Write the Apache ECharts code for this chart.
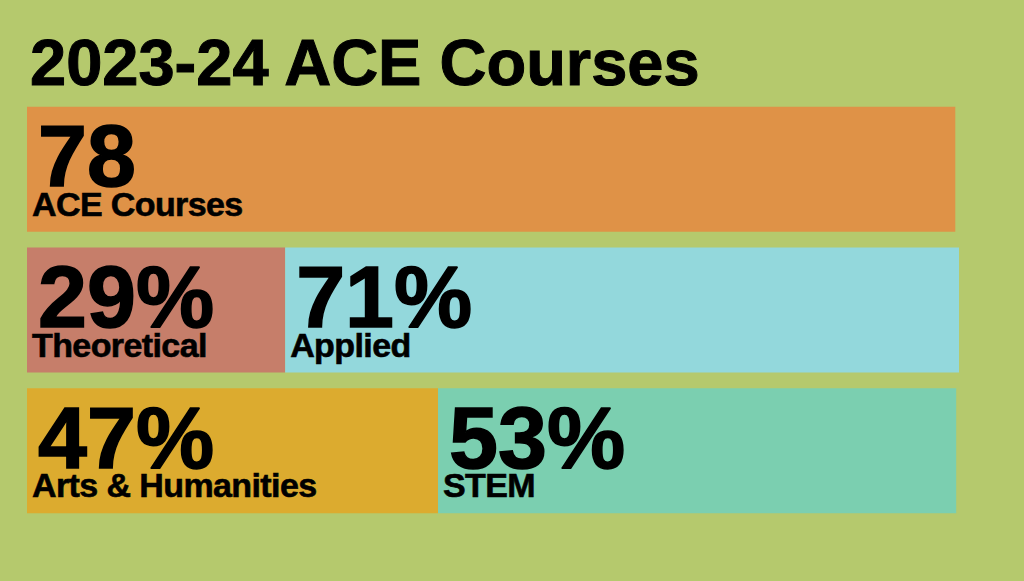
<!DOCTYPE html>
<html>
<head>
  <meta charset="utf-8" />
  <title>2023-24 ACE Courses</title>
  <script src="https://cdn.jsdelivr.net/npm/echarts@6/dist/echarts.min.js"></script>
  <style>
    html, body { margin: 0; padding: 0; background: #b5c96d; }
    #main { width: 1024px; height: 581px; }
    /* the small captions are set tight in the original */
    #main text[style*="34px"] { letter-spacing: -0.6px; }
  </style>
</head>
<body>
<div id="main"></div>
<script type="text/javascript">
  // rows, top to bottom
  var rows = ['Total', 'Type', 'Field'];
  // bar widths as share of the full row
  var leftShare = [99.6, 27.7, 44.1];
  var rightShare = ['-', 72.3, 55.6];
  // texts printed in each block
  var leftValue = ['78', '29%', '47%'];
  var leftName = ['ACE Courses', 'Theoretical', 'Arts & Humanities'];
  var rightValue = ['', '71%', '53%'];
  var rightName = ['', 'Applied', 'STEM'];

  var leftColors = ['#df9247', '#c67e6a', '#dcab2f'];
  var rightColors = ['#df9247', '#93d8dc', '#7bcfb0'];

  var font = '"Liberation Sans", Arial, sans-serif';

  function blockLabel(values, names) {
    return {
      show: true,
      position: 'insideTopLeft',
      distance: 0,
      offset: [5, 18],
      fontFamily: font,
      formatter: function (p) {
        return '{n|' + values[p.dataIndex] + '}\n{s|' + names[p.dataIndex] + '}';
      },
      rich: {
        n: {
          fontSize: 88, fontWeight: 'bold', color: '#000', lineHeight: 62, fontFamily: font,
          padding: [0, 0, 0, 6], textBorderColor: '#000', textBorderWidth: 1.5
        },
        s: {
          fontSize: 34, fontWeight: 'bold', color: '#000', lineHeight: 34, fontFamily: font,
          textBorderColor: '#000', textBorderWidth: 0.6
        }
      }
    };
  }

  function items(values, colors) {
    return values.map(function (v, i) {
      return { value: v, itemStyle: { color: colors[i] } };
    });
  }

  var myChart = echarts.init(document.getElementById('main'), null, { renderer: 'svg' });
  var option = {
    backgroundColor: '#b5c96d',
    animation: false,
    title: {
      text: '2023-24 ACE Courses',
      left: 25,
      top: 25,
      textStyle: {
        fontFamily: font, fontSize: 65, fontWeight: 'bold', color: '#000',
        textBorderColor: '#000', textBorderWidth: 1
      }
    },
    grid: { left: 27, right: 65, top: 99, bottom: 60 },
    xAxis: { type: 'value', min: 0, max: 100, show: false },
    yAxis: { type: 'category', data: rows, inverse: true, show: false },
    series: [
      {
        type: 'bar',
        stack: 'row',
        barWidth: 125,
        data: items(leftShare, leftColors),
        label: blockLabel(leftValue, leftName)
      },
      {
        type: 'bar',
        stack: 'row',
        barWidth: 125,
        data: items(rightShare, rightColors),
        label: blockLabel(rightValue, rightName)
      }
    ]
  };
  myChart.setOption(option);
</script>
</body>
</html>
